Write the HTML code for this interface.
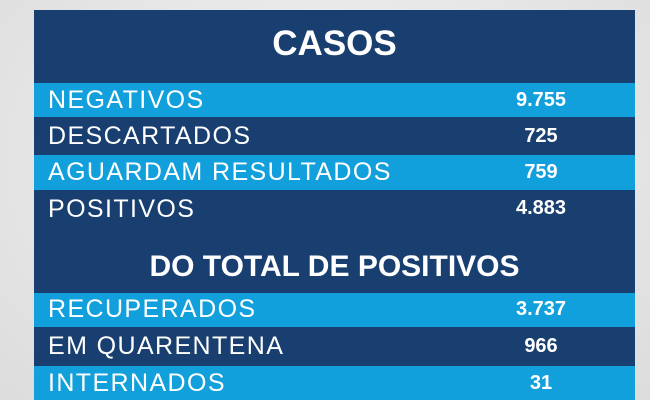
<!DOCTYPE html>
<html><head><meta charset="utf-8"><style>
body{margin:0;width:650px;height:400px;overflow:hidden;background:radial-gradient(ellipse at 50% 40%,#f4f4f4 0%,#dcdcdc 100%);font-family:"Liberation Sans",sans-serif;}
.p{position:absolute;left:34px;width:601px;top:10px;height:390px;background:#183f70;}
.r{position:absolute;left:34px;width:601px;color:#fff;}
.l{background:#12a0dc;}
.t{position:absolute;left:14px;font-size:25px;letter-spacing:1.4px;}
.v{position:absolute;left:447px;width:120px;text-align:center;font-weight:bold;font-size:20px;}
.h{position:absolute;left:34px;width:601px;text-align:center;color:#fff;font-weight:bold;}
</style></head><body>
<div class="p"></div>
<div class="h" style="top:24px;font-size:35px;">CASOS</div>
<div class="r l" style="top:83px;height:34px"><span class="t" style="top:3px">NEGATIVOS</span><span class="v" style="top:6px">9.755</span></div>
<div class="r" style="top:117px;height:38px"><span class="t" style="top:5px">DESCARTADOS</span><span class="v" style="top:8px">725</span></div>
<div class="r l" style="top:155px;height:35px"><span class="t" style="top:3px">AGUARDAM RESULTADOS</span><span class="v" style="top:6px">759</span></div>
<div class="r" style="top:190px;height:38px"><span class="t" style="top:5px">POSITIVOS</span><span class="v" style="top:7px">4.883</span></div>
<div class="h" style="top:250px;font-size:30px;">DO TOTAL DE POSITIVOS</div>
<div class="r l" style="top:293px;height:34px"><span class="t" style="top:2px">RECUPERADOS</span><span class="v" style="top:5px">3.737</span></div>
<div class="r" style="top:327px;height:39px"><span class="t" style="top:5px">EM QUARENTENA</span><span class="v" style="top:8px">966</span></div>
<div class="r l" style="top:366px;height:34px"><span class="t" style="top:3px">INTERNADOS</span><span class="v" style="top:6px">31</span></div>
</body></html>
